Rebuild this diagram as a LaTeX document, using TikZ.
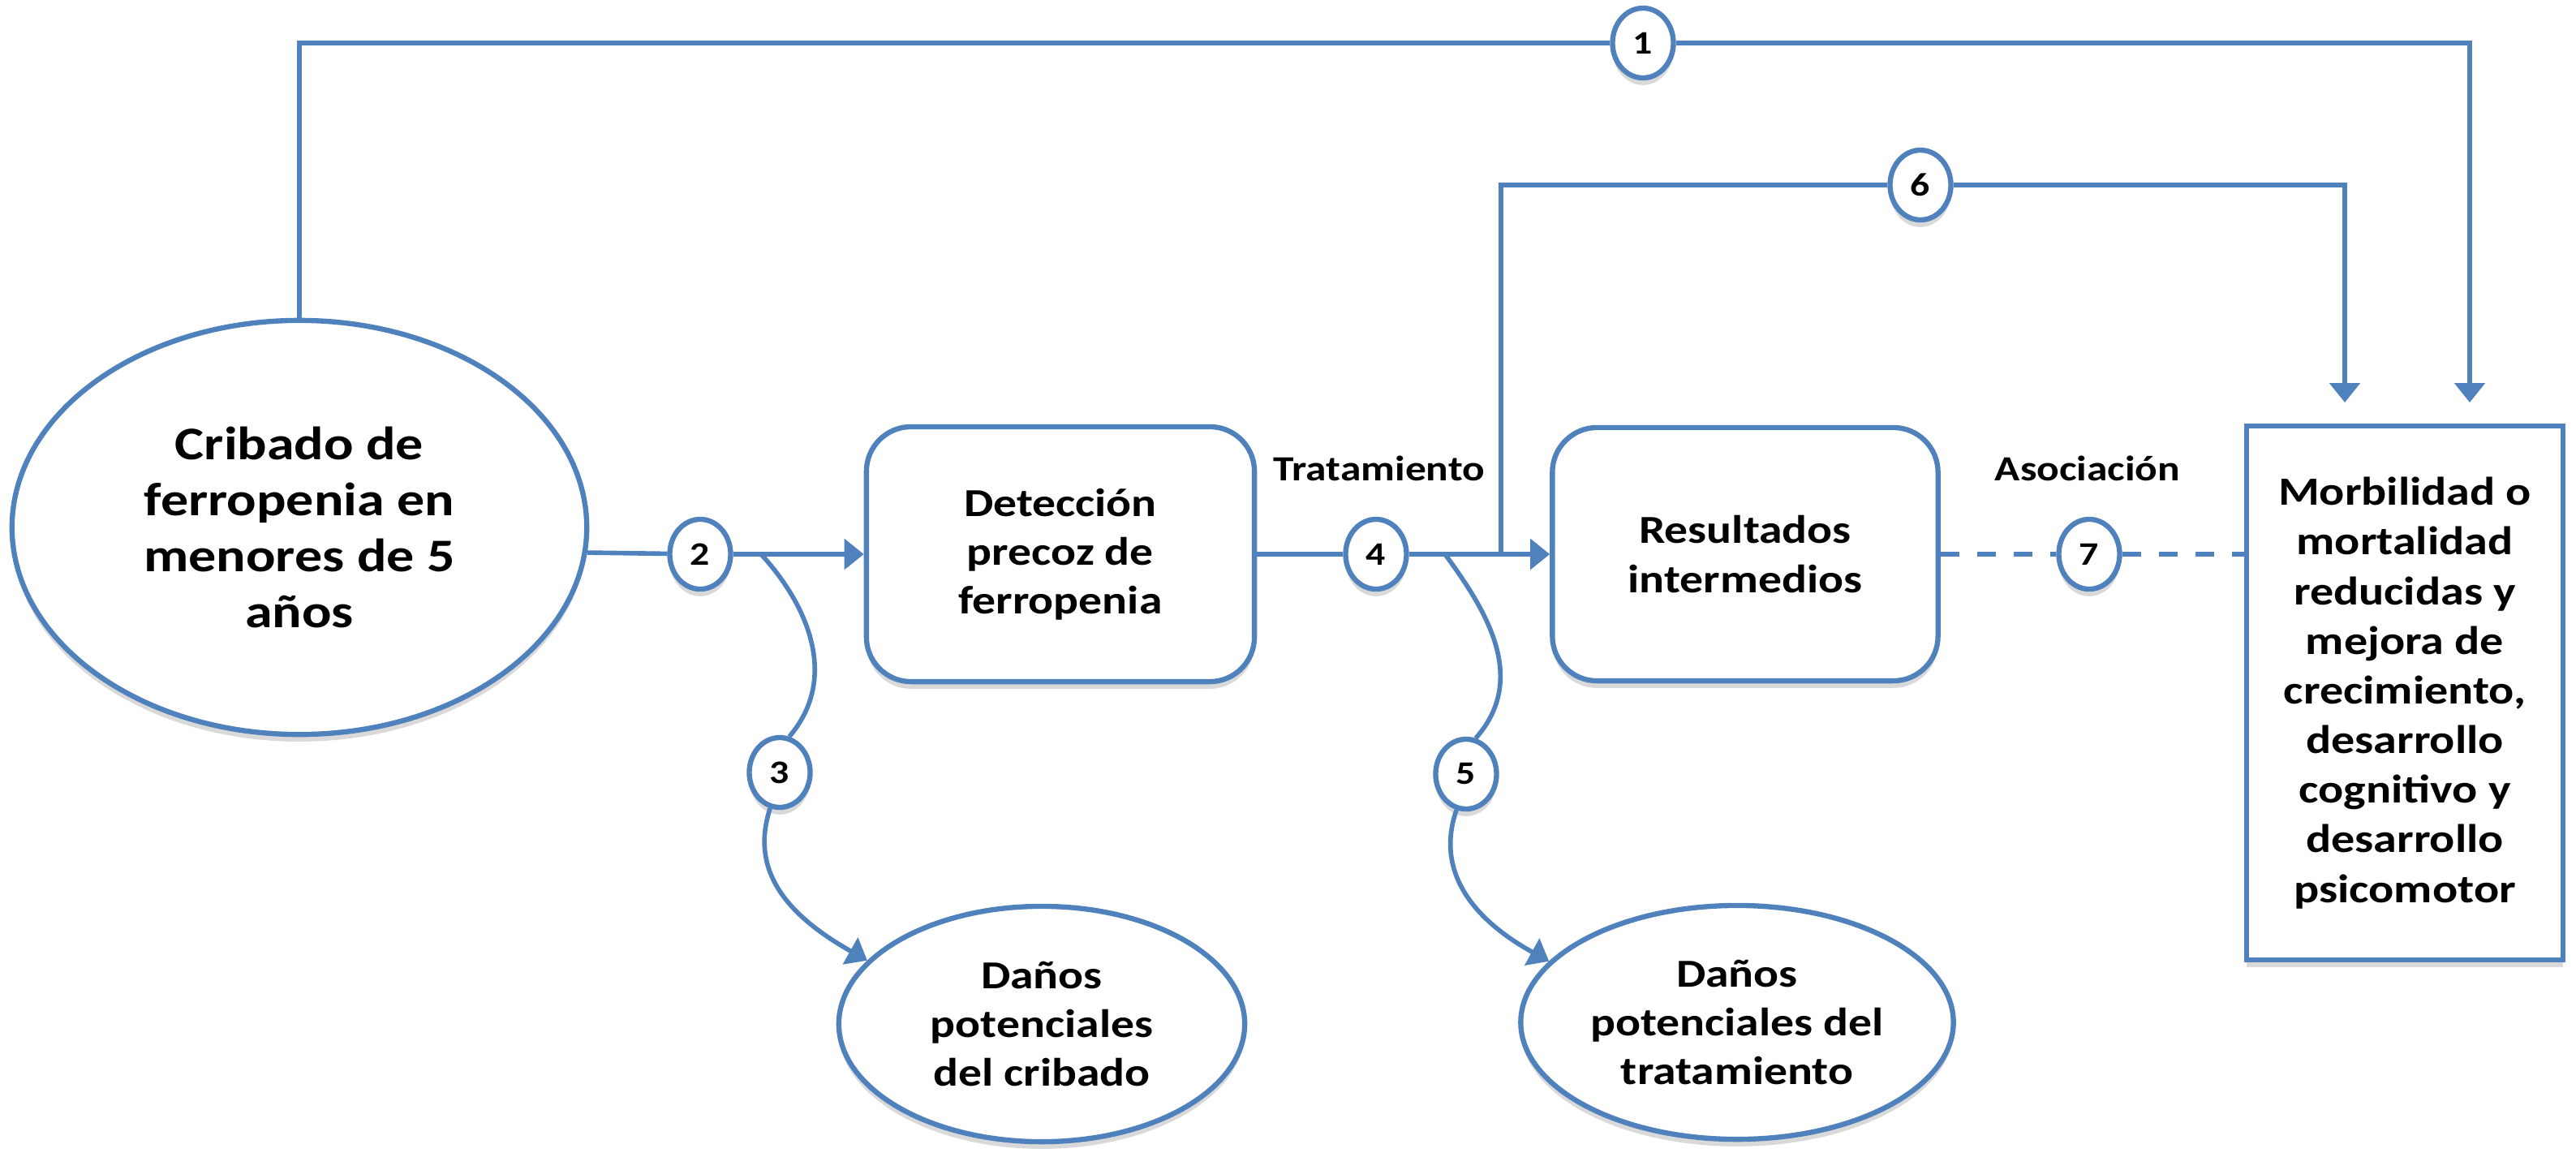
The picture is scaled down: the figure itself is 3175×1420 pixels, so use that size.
\documentclass[tikz,border=0pt]{standalone}
\usepackage{fontspec}
\setmainfont{Carlito}[FakeStretch=1.18]
\usetikzlibrary{arrows.meta,shapes.geometric,shadows}
\definecolor{lblue}{RGB}{79,129,189}
\begin{document}
\begin{tikzpicture}[x=0.01cm,y=-0.01cm,
  line/.style={draw=lblue, line width=1.6pt},
  arr/.style={line, -{Triangle[length=0.24cm,width=0.37cm]}},
  shd/.style={drop shadow={shadow xshift=0pt,shadow yshift=-2.5pt,opacity=0.15,fill=black}},
  shp/.style={draw=lblue, line width=1.8pt, fill=white, align=center, inner sep=0pt, shd,
    font=\bfseries\fontsize{13.9}{17.1}\selectfont},
  num/.style={ellipse, draw=lblue, line width=1.8pt, fill=white, shd,
    minimum width=0.75cm, minimum height=0.86cm, inner sep=0pt,
    font=\bfseries\fontsize{11.5}{13}\selectfont},
  lbl/.style={font=\bfseries\fontsize{12.4}{14}\selectfont},
  dsh/.style={line, dash pattern=on 0.23cm off 0.22cm}
]
\fill[white] (0,0) rectangle (3175,1420);
\useasboundingbox (0,0) rectangle (3175,1420);

% main shapes
\node[shp, ellipse, minimum width=7.08cm, minimum height=5.1cm,
  font=\bfseries\fontsize{16.4}{19.6}\selectfont] (cr) at (369,650)
  {Cribado de\\ferropenia en\\menores de 5\\años};
\node[shp, rounded corners=0.55cm, minimum width=4.78cm, minimum height=3.14cm] (det) at (1307,683)
  {Detección\\precoz de\\ferropenia};
\node[shp, rounded corners=0.55cm, minimum width=4.75cm, minimum height=3.12cm] (res) at (2151,683)
  {Resultados\\intermedios};
\node[shp, rectangle, minimum width=3.9cm, minimum height=6.58cm,
  font=\bfseries\fontsize{14}{17.4}\selectfont] (mor) at (2964,854)
  {Morbilidad o\\mortalidad\\reducidas y\\mejora de\\crecimiento,\\desarrollo\\cognitivo y\\desarrollo\\psicomotor};
\node[shp, ellipse, minimum width=5.0cm, minimum height=2.9cm] (dc) at (1284,1262)
  {Daños\\potenciales\\del cribado};
\node[shp, ellipse, minimum width=5.33cm, minimum height=2.88cm] (dt) at (2141,1260)
  {Daños\\potenciales del\\tratamiento};

% labels
\node[lbl] (tr) at (1700,577) {Tratamiento};
\node[lbl] (as) at (2573,577) {Asociación};

% numbered circles
\node[num] (n1) at (2025,53) {1};
\node[num] (n2) at (863,683) {2};
\node[num] (n3) at (961,952) {3};
\node[num] (n4) at (1696,683) {4};
\node[num] (n5) at (1807,954) {5};
\node[num] (n6) at (2367,228) {6};
\node[num] (n7) at (2575,683) {7};

% free ends and junctions
\coordinate (t1) at (3044,496);
\coordinate (t6) at (2890,496);
\coordinate (b2) at (938,683);
\coordinate (b4) at (1781,683);
\coordinate (j6) at (1850,683);

% connectors
\draw[line] (cr.north) |- (n1);
\draw[arr] (n1) -| (t1);

\draw[line] (cr.-5.4) -- (n2);
\draw[arr] (n2) -- (det);
\draw[line] (b2) .. controls (995,745) and (1035,835) .. (n3.75);
\draw[arr] (n3.-105) .. controls (925,1070) and (965,1125) .. (dc.160);

\draw[line] (det) -- (n4);
\draw[arr] (n4) -- (res);
\draw[line] (b4) .. controls (1830,750) and (1885,835) .. (n5.75);
\draw[arr] (n5.-105) .. controls (1770,1070) and (1810,1130) .. (dt.162);

\draw[line] (j6) |- (n6);
\draw[arr] (n6) -| (t6);

\draw[dsh] (res.east) -- (n7);
\draw[dsh] (n7) -- (mor.west |- n7);
\end{tikzpicture}
\end{document}
